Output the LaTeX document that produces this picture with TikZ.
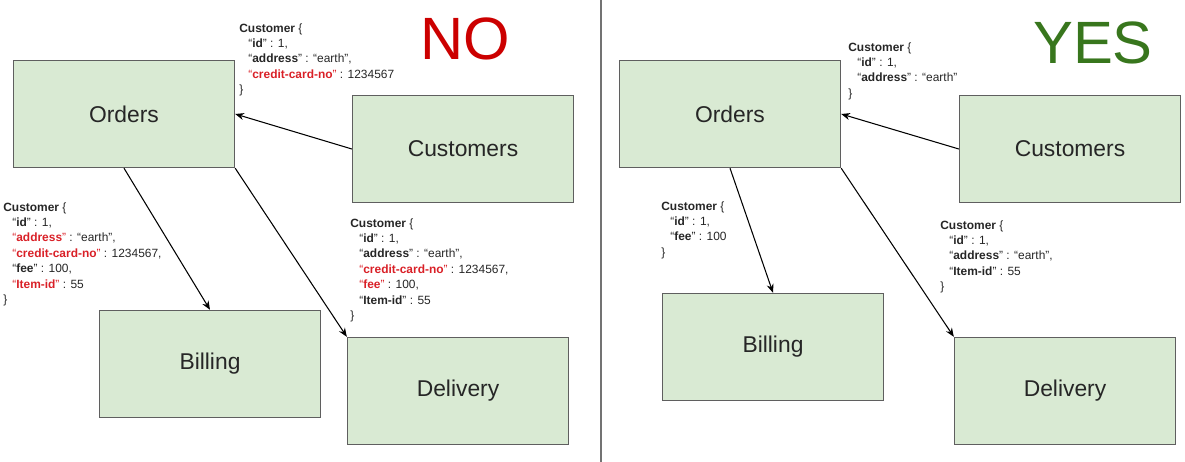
\documentclass[tikz,border=0pt]{standalone}
\usepackage{fontspec}
\setmainfont{Liberation Sans}
\usetikzlibrary{arrows.meta}
\definecolor{boxgreen}{HTML}{D9EAD3}
\definecolor{boxline}{HTML}{5F5F5F}
\definecolor{nored}{HTML}{CC0000}
\definecolor{keyred}{HTML}{D92027}
\definecolor{yesgreen}{HTML}{38761D}
\newcommand{\ky}[1]{“\textbf{#1}”}
\newcommand{\bad}[1]{\textcolor{keyred}{“\textbf{#1}”}}
\newcommand{\ind}{\hspace*{0.18cm}}
\begin{document}
\begin{tikzpicture}[x=0.02cm,y=-0.02cm,>={Stealth[length=5pt,width=4pt]},
  box/.style={draw=boxline,fill=boxgreen,line width=0.8pt,minimum width=4.42cm,minimum height=2.14cm,font=\fontsize{13}{15}\selectfont,text=black!85},
  json/.style={anchor=north west,inner sep=0pt,align=left,text=black!85,font=\fontsize{6.8}{8.8}\selectfont}]
\useasboundingbox (0,0) rectangle (1185,462);

% left half
\node(O1)[box] at (124,114) {Orders};
\node(C1)[box] at (463,149) {Customers};
\node(B1)[box] at (210,364) {Billing};
\node(D1)[box] at (458,391) {Delivery};
\node(no)[text=nored,font=\fontsize{34}{34}\selectfont] at (465,39) {NO};

\draw[->,line width=0.6pt] (C1.west) -- (O1.east);
\draw[->,line width=0.6pt] (O1.south) -- (B1.north);
\draw[->,line width=0.6pt] (O1.south east) -- (D1.north west);

\node(j1)[json] at (239,23) {\textbf{Customer} \{\\
\ind\ky{id} : 1,\\
\ind\ky{address} : “earth”,\\
\ind\bad{credit-card-no} : 1234567\\
\}};
\node(j2)[json] at (3,202) {\textbf{Customer} \{\\
\ind\ky{id} : 1,\\
\ind\bad{address} : “earth”,\\
\ind\bad{credit-card-no} : 1234567,\\
\ind\ky{fee} : 100,\\
\ind\bad{Item-id} : 55\\
\}};
\node(j3)[json] at (350,218) {\textbf{Customer} \{\\
\ind\ky{id} : 1,\\
\ind\ky{address} : “earth”,\\
\ind\bad{credit-card-no} : 1234567,\\
\ind\bad{fee} : 100,\\
\ind\ky{Item-id} : 55\\
\}};

% divider
\coordinate(top) at (601,0);
\coordinate(bot) at (601,462);
\draw[black!55,line width=0.9pt] (top) -- (bot);

% right half
\node(O2)[box] at (730,114) {Orders};
\node(C2)[box] at (1070,149) {Customers};
\node(B2)[box] at (773,347) {Billing};
\node(D2)[box] at (1065,391) {Delivery};
\node(yes)[text=yesgreen,font=\fontsize{34}{34}\selectfont] at (1093,43) {YES};

\draw[->,line width=0.6pt] (C2.west) -- (O2.east);
\draw[->,line width=0.6pt] (O2.south) -- (B2.north);
\draw[->,line width=0.6pt] (O2.south east) -- (D2.north west);

\node(j4)[json] at (848,42) {\textbf{Customer} \{\\
\ind\ky{id} : 1,\\
\ind\ky{address} : “earth”\\
\}};
\node(j5)[json] at (661,201) {\textbf{Customer} \{\\
\ind\ky{id} : 1,\\
\ind\ky{fee} : 100\\
\}};
\node(j6)[json] at (940,220) {\textbf{Customer} \{\\
\ind\ky{id} : 1,\\
\ind\ky{address} : “earth”,\\
\ind\ky{Item-id} : 55\\
\}};

\end{tikzpicture}
\end{document}
